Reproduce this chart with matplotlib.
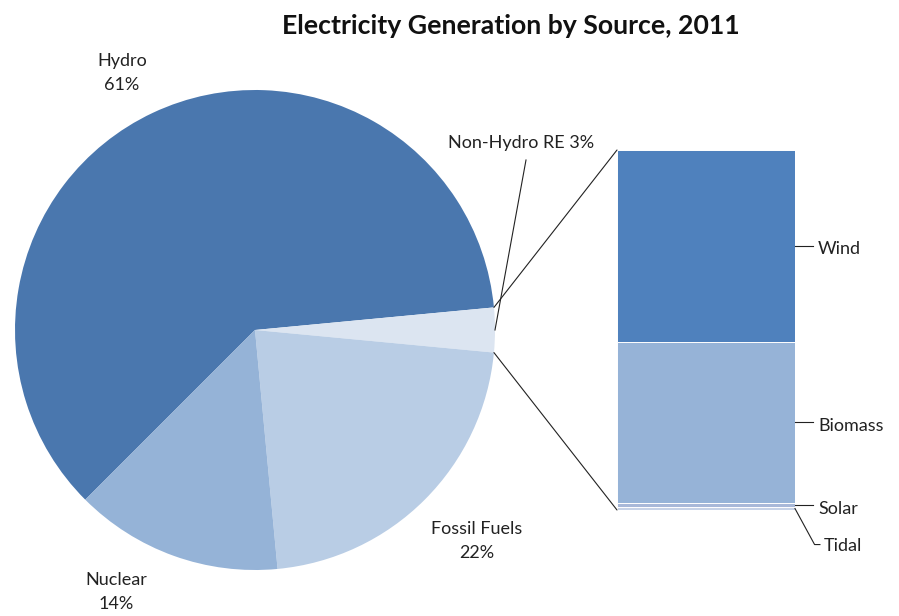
import numpy as np
import matplotlib.pyplot as plt
from matplotlib.patches import ConnectionPatch

plt.rcParams['font.family'] = ['Lato', 'DejaVu Sans']

# main pie: share of generation, %
pie_labels = ['Hydro', 'Non-Hydro RE', 'Fossil Fuels', 'Nuclear']
pie_values = [61, 3, 22, 14]
pie_colors = ['#4a77ae', '#dce5f1', '#b9cde5', '#95b3d7']

# breakdown of non-hydro renewables, % of RE (bottom to top)
re_labels = ['Tidal', 'Solar', 'Biomass', 'Wind']
re_values = [0.8, 1.2, 44.8, 53.2]
re_colors = ['#c6d2e7', '#a8b8d8', '#96b3d7', '#4f81bd']

W, H = 899, 616
fig = plt.figure(figsize=(W / 100, H / 100), dpi=100)
ax = fig.add_axes([0, 0, 1, 1])

cx, cy, r = 255, 286, 240
start = 5.4 + pie_values[0] * 3.6  # RE slice sits centred on the horizontal
wedges, _ = ax.pie(pie_values, colors=pie_colors, startangle=start, counterclock=False,
                   center=(cx, cy), radius=r, frame=True,
                   wedgeprops=dict(linewidth=0))
ax.set_xlim(0, W)
ax.set_ylim(0, H)
ax.set_aspect('equal')
ax.axis('off')

ink = '#222222'
txt = dict(fontsize=13, color=ink, ha='center', va='center', linespacing=1.6)
ax.text(122, H - 73, 'Hydro\n61%', **txt)
ax.text(116, H - 592, 'Nuclear\n14%', **txt)
ax.text(477, H - 541, 'Fossil Fuels\n22%', **txt)
ax.text(521, H - 143, 'Non-Hydro RE 3%', **txt)

# leader for the small RE slice
re_w = wedges[1]
mid = np.deg2rad((re_w.theta1 + re_w.theta2) / 2)
ax.plot([526, cx + r * np.cos(mid)], [H - 160, cy + r * np.sin(mid)], color=ink, lw=0.8)

ax.text(511, H - 26, 'Electricity Generation by Source, 2011', fontsize=19.2,
        fontweight='bold', ha='center', va='center', color='#111111')

# stacked bar for the renewables breakdown
bx = fig.add_axes([617 / W, 106 / H, 178 / W, 360 / H])
total = sum(re_values)
bottoms = np.cumsum([0] + re_values[:-1])
bx.bar([0] * len(re_values), re_values, bottom=bottoms, width=1, color=re_colors,
       edgecolor='white', linewidth=0.7)
bx.set_xlim(-0.5, 0.5)
bx.set_ylim(0, total)
bx.axis('off')

# connector lines from the RE slice edges to the bar corners
for ang, yb in [(re_w.theta2, total), (re_w.theta1, 0)]:
    a = np.deg2rad(ang)
    con = ConnectionPatch(xyA=(cx + r * np.cos(a), cy + r * np.sin(a)), coordsA=ax.transData,
                          xyB=(-0.5, yb), coordsB=bx.transData, color=ink, lw=0.8)
    fig.add_artist(con)

# segment labels with short leader ticks
mids = bottoms + np.array(re_values) / 2
for name, ym in zip(re_labels[1:], mids[1:]):
    y_lab = ym - 1.0
    bx.plot([0.5, 0.6], [ym, ym], color=ink, lw=0.8, clip_on=False)
    bx.text(0.63, y_lab, name, fontsize=13, color=ink, va='center', ha='left')
# tidal leader bends down below the bar
bx.plot([0.5, 0.61, 0.64], [mids[0], mids[0] - 10, mids[0] - 10], color=ink, lw=0.8,
        clip_on=False)
bx.text(0.66, mids[0] - 10.5, re_labels[0], fontsize=13, color=ink, va='center', ha='left')

fig.savefig('out.png', dpi=100)
